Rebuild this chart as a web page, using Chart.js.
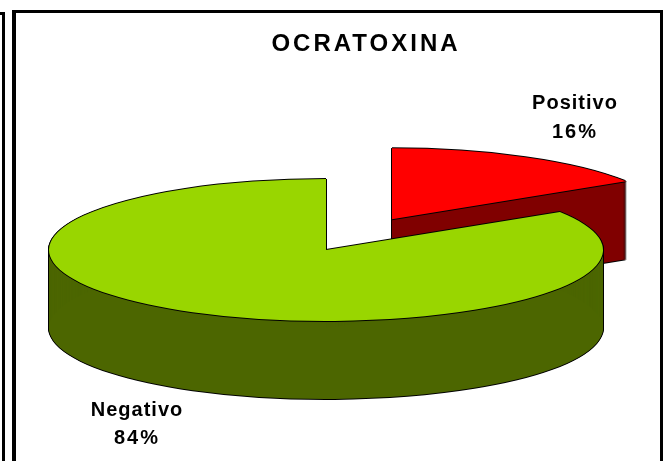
<!DOCTYPE html>
<html>
<head>
<meta charset="utf-8">
<title>OCRATOXINA</title>
<script src="https://cdn.jsdelivr.net/npm/chart.js@4/dist/chart.umd.min.js"></script>
<style>
    html, body { margin: 0; padding: 0; background: #fff; overflow: hidden; }
    #stage { position: relative; width: 663px; height: 461px; }
    #stage canvas { position: absolute; left: 0; top: 0; }
    .line { position: absolute; background: #000; }
</style>
</head>
<body>
<div id="stage">
    <div class="line" style="left:0;top:12px;width:5px;height:3px"></div>
    <div class="line" style="left:2px;top:12px;width:3px;height:449px"></div>
    <div class="line" style="left:12px;top:10px;width:651px;height:3px"></div>
    <div class="line" style="left:12px;top:10px;width:4px;height:451px"></div>
    <div class="line" style="left:660px;top:10px;width:3px;height:451px"></div>
    <canvas id="chart" width="663" height="461"></canvas>
</div>
<script>
var chartTitle = 'OCRATOXINA';
var categories = ['Positivo', 'Negativo'];
var values = [16, 84];
var topColors = ['#ff0000', '#99d600'];
var sideColors = ['#800000', '#4c6600'];

// pie is drawn flattened, chart.js has no 3d mode so the plugin below does it
var pie3d = { centerX: 326, centerY: 250, radius: 277, tilt: 0.256, depth: 78, explode: [137, 0] };
var labelSpots = [
    { x: 575, y: 103, y2: 132 },
    { x: 137, y: 410, y2: 438 }
];

function drawArc(ctx, arc, color, explode, dx, dy) {
    var ghost = Object.create(arc);
    ghost.options = Object.assign({}, arc.options, { backgroundColor: color, borderWidth: 0, offset: 0 });
    var mid = (arc.startAngle + arc.endAngle) / 2;
    ctx.save();
    ctx.translate(pie3d.centerX + dx, pie3d.centerY + dy);
    ctx.scale(1, pie3d.tilt);
    ctx.translate(Math.cos(mid) * explode - arc.x, Math.sin(mid) * explode - arc.y);
    ghost.draw(ctx);
    ctx.restore();
}

var pie3dPlugin = {
    id: 'pie3d',
    beforeDraw: function (chart) {
        chart.ctx.letterSpacing = '3px';
    },
    beforeDatasetsDraw: function (chart) {
        var ctx = chart.ctx;
        var arcs = chart.getDatasetMeta(0).data;
        arcs.forEach(function (arc, i) {
            var ex = pie3d.explode[i];
            var d;
            // black outline first, then the wall, then the top face
            for (d = 0; d <= pie3d.depth; d++) {
                drawArc(ctx, arc, '#000', ex, -1, d);
                drawArc(ctx, arc, '#000', ex, 1, d);
            }
            drawArc(ctx, arc, '#000', ex, 0, pie3d.depth + 1);
            for (d = 0; d <= pie3d.depth; d++) {
                drawArc(ctx, arc, sideColors[i], ex, 0, d);
            }
            [[-1, 0], [1, 0], [0, -1], [0, 1]].forEach(function (o) {
                drawArc(ctx, arc, '#000', ex, o[0], o[1]);
            });
            drawArc(ctx, arc, topColors[i], ex, 0, 0);
        });
        return false;
    },
    afterDraw: function (chart) {
        var ctx = chart.ctx;
        var total = values.reduce(function (a, b) { return a + b; }, 0);
        ctx.save();
        ctx.fillStyle = '#000';
        ctx.font = 'bold 20px "Liberation Sans", Arial, sans-serif';
        ctx.textAlign = 'center';
        ctx.textBaseline = 'middle';
        categories.forEach(function (name, i) {
            var spot = labelSpots[i];
            ctx.letterSpacing = '1px';
            ctx.fillText(name, spot.x, spot.y);
            ctx.letterSpacing = '2px';
            ctx.fillText(Math.round(values[i] / total * 100) + '%', spot.x, spot.y2);
        });
        ctx.restore();
    }
};

new Chart(document.getElementById('chart'), {
    type: 'pie',
    data: {
        labels: categories,
        datasets: [{ data: values, backgroundColor: topColors, borderWidth: 0 }]
    },
    options: {
        responsive: false,
        animation: false,
        radius: pie3d.radius,
        layout: { padding: { left: 69 } },
        plugins: {
            legend: { display: false },
            tooltip: { enabled: false },
            title: {
                display: true,
                text: chartTitle,
                color: '#000',
                font: { family: '"Liberation Sans", Arial, sans-serif', size: 24, weight: 'bold' },
                padding: { top: 30, bottom: 0 }
            }
        }
    },
    plugins: [pie3dPlugin]
});
</script>
</body>
</html>
